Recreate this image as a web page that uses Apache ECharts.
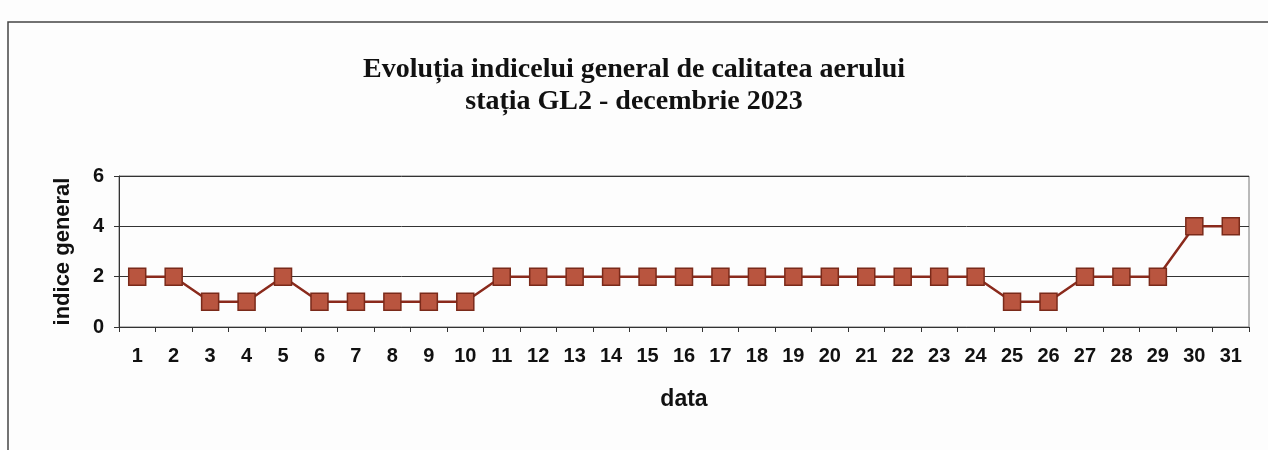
<!DOCTYPE html>
<html><head><meta charset="utf-8">
<script src="https://cdn.jsdelivr.net/npm/echarts@6/dist/echarts.min.js"></script>
<style>html,body{margin:0;padding:0;background:#fff}#c{width:1268px;height:450px}</style>
</head><body><div id="c"></div>
<script>
var days = ['1','2','3','4','5','6','7','8','9','10','11','12','13','14','15','16','17','18','19','20','21','22','23','24','25','26','27','28','29','30','31'];
var indice = [2,2,1,1,2,1,1,1,1,1,2,2,2,2,2,2,2,2,2,2,2,2,2,2,1,1,2,2,2,4,4];
var yTicks = [0,2,4,6];

var chart = echarts.init(document.getElementById('c'));
chart.setOption({
  backgroundColor: '#fdfdfd',
  animation: false,
  graphic: [{
    type: 'rect', shape: {x: 8, y: 22, width: 1300, height: 500},
    style: {fill: 'none', stroke: '#444', lineWidth: 1.5}, silent: true
  }],
  title: {
    text: 'Evoluția indicelui general de calitatea aerului\nstația GL2 - decembrie 2023',
    left: 'center', top: 49,
    textStyle: {fontFamily: 'Liberation Serif', fontWeight: 'bold', fontSize: 28, color: '#111', lineHeight: 32}
  },
  grid: {left: 119, right: 19, top: 176, bottom: 123, show: true, borderColor: '#777', borderWidth: 1, backgroundColor: 'transparent'},
  xAxis: {
    type: 'category', data: days, boundaryGap: true,
    name: 'data', nameLocation: 'middle', nameGap: 61,
    nameTextStyle: {fontFamily: 'Liberation Sans', fontWeight: 'bold', fontSize: 23, color: '#111'},
    axisLine: {lineStyle: {color: '#333', width: 1}},
    axisTick: {show: true, length: 5, lineStyle: {color: '#333'}},
    axisLabel: {fontFamily: 'Liberation Sans', fontWeight: 'bold', fontSize: 20, color: '#111', margin: 19, interval: 0}
  },
  yAxis: {
    type: 'value', min: yTicks[0], max: yTicks[yTicks.length - 1], interval: 2,
    name: 'indice general', nameLocation: 'middle', nameGap: 45, nameRotate: 90,
    nameTextStyle: {fontFamily: 'Liberation Sans', fontWeight: 'bold', fontSize: 22, color: '#111'},
    axisLine: {show: true, lineStyle: {color: '#333', width: 1}},
    axisTick: {show: true, length: 5, lineStyle: {color: '#333'}},
    axisLabel: {fontFamily: 'Liberation Sans', fontWeight: 'bold', fontSize: 20, color: '#111', margin: 15},
    splitLine: {show: true, lineStyle: {color: '#333', width: 1}}
  },
  series: [{
    type: 'line', data: indice,
    symbol: 'rect', symbolSize: 17,
    lineStyle: {color: '#8a2a1c', width: 2.5},
    itemStyle: {color: '#b9553f', borderColor: '#7a2a1a', borderWidth: 1.5}
  }]
});
</script></body></html>
